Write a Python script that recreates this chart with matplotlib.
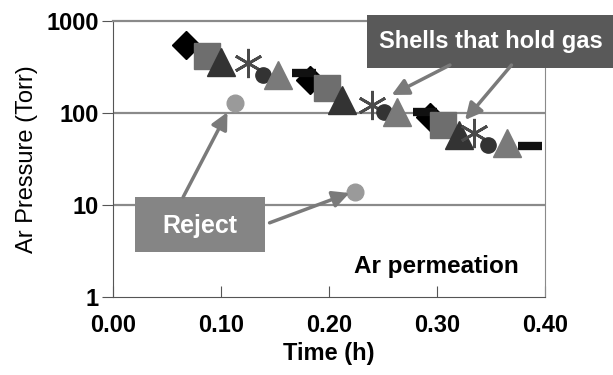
import matplotlib
matplotlib.use('Agg')
import matplotlib.pyplot as plt
from matplotlib.patches import Rectangle

plt.rcParams['font.family'] = ['Liberation Sans', 'DejaVu Sans']

# time (h) and Ar pressure (Torr) for each marker series, three shells each
diamond_t = [0.068, 0.182, 0.294]
diamond_p = [548, 228, 90]
square_t = [0.087, 0.198, 0.306]
square_p = [417, 187, 74]
dtri_t = [0.100, 0.212, 0.320]
dtri_p = [358, 138, 58]
star_t = [0.125, 0.240, 0.334]
star_p = [350, 122, 61]
circle_t = [0.139, 0.251, 0.347]
circle_p = [259, 102, 45]
gtri_t = [0.153, 0.263, 0.365]
gtri_p = [262, 102, 47]
dash_t = [0.177, 0.289, 0.386]
dash_p = [272, 102, 44]
reject_t = [0.113, 0.224]
reject_p = [128, 13.8]

x_ticks = [0.0, 0.1, 0.2, 0.3, 0.4]
x_labels = ['0.00', '0.10', '0.20', '0.30', '0.40']
y_ticks = [1, 10, 100, 1000]
y_labels = ['1', '10', '100', '1000']

fig = plt.figure(figsize=(6.13, 3.75), dpi=100)
ax = fig.add_axes([0.1843, 0.208, 0.7047, 0.736])
ax.set_yscale('log')
ax.set_xlim(0, 0.4)
ax.set_ylim(1, 1000)

# gridlines
for v in [10, 100]:
    ax.axhline(v, color='#8a8a8a', linewidth=1.6, zorder=1)

ax.plot(diamond_t, diamond_p, linestyle='none', marker='D', ms=14, color='black', zorder=3)
ax.plot(dash_t, dash_p, linestyle='none', marker='_', ms=17, mew=6, color='#111111', zorder=3)
ax.plot(square_t, square_p, linestyle='none', marker='s', ms=19, color='#6e6e6e', zorder=4)
ax.plot(dtri_t, dtri_p, linestyle='none', marker='^', ms=20, color='#333333', zorder=5)
ax.plot(star_t, star_p, linestyle='none', marker=(6, 2, 0), ms=21, mew=2, color='#4a4a4a', zorder=6)
ax.plot(circle_t, circle_p, linestyle='none', marker='o', ms=11, color='#333333', zorder=7)
ax.plot(gtri_t, gtri_p, linestyle='none', marker='^', ms=20, color='#7a7a7a', zorder=8)
ax.plot(reject_t, reject_p, linestyle='none', marker='o', ms=12, color='#9a9a9a', zorder=8)

# spines and ticks
ax.spines['top'].set_color('#8a8a8a')
ax.spines['top'].set_linewidth(1.6)
ax.spines['right'].set_color('#8a8a8a')
ax.spines['left'].set_color('#555555')
ax.spines['bottom'].set_color('#555555')
ax.set_xticks(x_ticks)
ax.set_xticklabels(x_labels)
ax.set_yticks(y_ticks)
ax.set_yticklabels(y_labels)
ax.minorticks_off()
ax.tick_params(axis='x', direction='in', length=8, color='#555555', labelsize=17, pad=12)
ax.tick_params(axis='y', direction='out', length=8, color='#555555', labelsize=17, pad=2)
for lab in ax.get_xticklabels() + ax.get_yticklabels():
    lab.set_fontweight('bold')

ax.set_xlabel('Time (h)', fontsize=17, fontweight='bold', labelpad=4)
ax.set_ylabel('Ar Pressure (Torr)', fontsize=17, labelpad=6)

ax.text(0.748, 0.109, 'Ar permeation', transform=ax.transAxes, fontsize=17.5,
        fontweight='bold', ha='center', va='center', zorder=10)

# Reject callout
ax.add_patch(Rectangle((0.051, 0.163), 0.301, 0.199, transform=ax.transAxes,
                       facecolor='#858585', edgecolor='none', zorder=9, clip_on=False))
ax.text(0.201, 0.258, 'Reject', transform=ax.transAxes, fontsize=18, fontweight='bold',
        color='white', ha='center', va='center', zorder=10)
arrow_gray = dict(arrowstyle='-|>,head_length=1.0,head_width=0.5', color='#7a7a7a',
                  linewidth=2.5, shrinkA=0, shrinkB=0)
ax.annotate('', xy=(0.106, 102), xytext=(0.065, 12.2), arrowprops=arrow_gray, zorder=9)
ax.annotate('', xy=(0.219, 13.5), xytext=(0.145, 6.4), arrowprops=arrow_gray, zorder=9)

# Shells that hold gas callout
ax.add_patch(Rectangle((0.588, 0.830), 0.7, 0.192, transform=ax.transAxes,
                       facecolor='#595959', edgecolor='none', zorder=9, clip_on=False))
ax.text(0.615, 0.926, 'Shells that hold gas', transform=ax.transAxes, fontsize=17,
        fontweight='bold', color='white', ha='left', va='center', zorder=10, clip_on=False)
ax.annotate('', xy=(0.258, 157), xytext=(0.312, 332), arrowprops=arrow_gray, zorder=9)
ax.annotate('', xy=(0.326, 84), xytext=(0.369, 332), arrowprops=arrow_gray, zorder=9)

fig.savefig('out.png', dpi=100)
